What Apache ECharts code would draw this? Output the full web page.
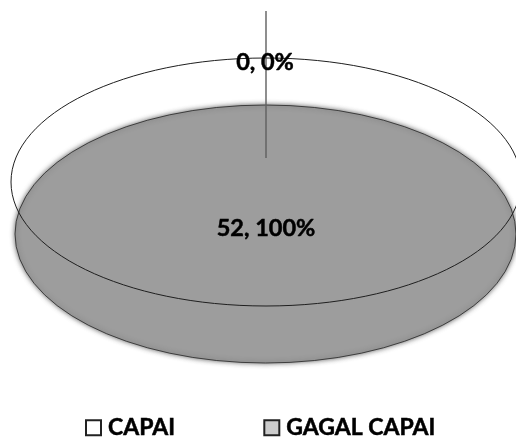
<!DOCTYPE html>
<html>
<head>
<meta charset="utf-8">
<style>html,body{margin:0;padding:0;background:#fff}#c{width:516px;height:439px}</style>
<script src="https://cdn.jsdelivr.net/npm/echarts@6/dist/echarts.min.js"></script>
</head>
<body>
<div id="c"></div>
<script>
var categories = ['CAPAI', 'GAGAL CAPAI'];
var values = [0, 52];
var total = values.reduce(function (a, b) { return a + b; }, 0);
var FONT = 'Lato, "Open Sans", sans-serif';

function labelOf(i) {
  return values[i] + ', ' + Math.round(values[i] / total * 100) + '%';
}
function labelEl(i, x, y) {
  return { type: 'text', z2: 10, style: {
    x: x, y: y, text: labelOf(i), fill: '#000', stroke: '#000', lineWidth: 0.5, align: 'center', verticalAlign: 'middle',
    font: 'bold 23.5px ' + FONT } };
}
var chart = echarts.init(document.getElementById('c'), null, { renderer: 'canvas' });
chart.setOption({
  animation: false,
  backgroundColor: '#fff',
  legend: {
    left: 80, top: 411, itemWidth: 15, itemHeight: 15, itemGap: 88, icon: 'rect',
    data: [
      { name: categories[0], itemStyle: { color: '#fff', borderColor: '#222', borderWidth: 2 } },
      { name: categories[1], itemStyle: { color: '#cccccc', borderColor: '#222', borderWidth: 2 } }
    ],
    textStyle: { fontFamily: FONT, fontWeight: 'bold', fontSize: 23, color: '#000',
      textBorderColor: '#000', textBorderWidth: 0.5, padding: [0, 0, 0, 2] }
  },
  series: [
    {
      type: 'custom', coordinateSystem: 'none', name: categories[1], data: [values[1]],
      itemStyle: { color: '#cccccc' },
      renderItem: function () {
        var cx = 265.5, cy = 234, rx = 250.5, ry = 129;
        return { type: 'group', children: [
          { type: 'sector', originX: cx, originY: cy, scaleY: ry / rx,
            shape: { cx: cx, cy: cy, r: rx, r0: 0, startAngle: -Math.PI / 2,
              endAngle: -Math.PI / 2 + 2 * Math.PI * values[1] / total },
            style: { fill: '#9d9d9d', stroke: '#1f1f1f', lineWidth: 1, strokeNoScale: true,
              shadowBlur: 5, shadowColor: 'rgba(60,60,60,0.8)' } },
          labelEl(1, 266, 228)
        ] };
      }
    },
    {
      type: 'custom', coordinateSystem: 'none', name: categories[0], data: [values[0]],
      itemStyle: { color: '#fff' },
      renderItem: function () {
        var cx = 266, cy = 182, rx = 255, ry = 124;
        return { type: 'group', children: [
          { type: 'ellipse', shape: { cx: cx, cy: cy, rx: rx, ry: ry },
            style: { fill: 'none', stroke: '#1f1f1f', lineWidth: 1 } },
          { type: 'line', shape: { x1: 266, y1: 11, x2: 266, y2: 158 },
            style: { stroke: '#5f5f5f', lineWidth: 1.4 } },
          labelEl(0, 265, 62)
        ] };
      }
    }
  ]
});
</script>
</body>
</html>
